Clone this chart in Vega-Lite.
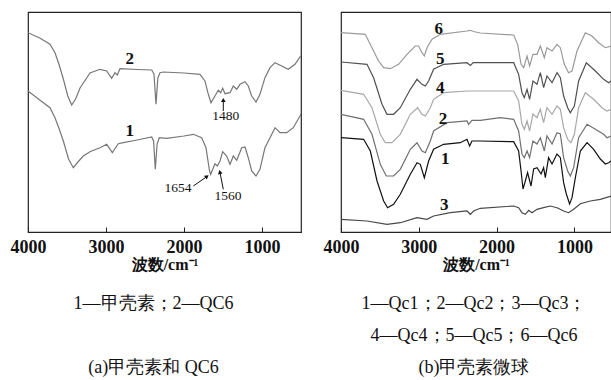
{
  "$schema": "https://vega.github.io/schema/vega-lite/v6.json",
  "background": "white",
  "padding": {"left": 9, "top": 11, "right": 0, "bottom": 0},
  "bounds": "flush",
  "spacing": 40,
  "config": {
    "view": {"stroke": "#222", "strokeWidth": 1.2},
    "font": "Liberation Serif",
    "text": {"font": "Liberation Serif"}
  },
  "datasets": {
    "a": [
      {"s":"2","w":4000,"t":199.3},{"s":"2","w":3850,"t":194},{"s":"2","w":3718,"t":187.7},{"s":"2","w":3654,"t":179.3},{"s":"2","w":3600,"t":167},{"s":"2","w":3547,"t":153},{"s":"2","w":3490,"t":136},{"s":"2","w":3440,"t":127},{"s":"2","w":3390,"t":133},{"s":"2","w":3333,"t":144},{"s":"2","w":3205,"t":159},{"s":"2","w":3077,"t":162.7},{"s":"2","w":2991,"t":161},{"s":"2","w":2927,"t":153.7},{"s":"2","w":2885,"t":159.3},{"s":"2","w":2855,"t":157},{"s":"2","w":2821,"t":163.3},{"s":"2","w":2600,"t":162.5},{"s":"2","w":2414,"t":162},{"s":"2","w":2385,"t":158},{"s":"2","w":2359,"t":127.7},{"s":"2","w":2335,"t":154},{"s":"2","w":2308,"t":159.3},{"s":"2","w":2265,"t":160},{"s":"2","w":2000,"t":159},{"s":"2","w":1795,"t":157.7},{"s":"2","w":1731,"t":151},{"s":"2","w":1688,"t":137.7},{"s":"2","w":1654,"t":129.3},{"s":"2","w":1603,"t":136},{"s":"2","w":1560,"t":141.7},{"s":"2","w":1529,"t":139.3},{"s":"2","w":1504,"t":143.7},{"s":"2","w":1474,"t":138.3},{"s":"2","w":1410,"t":139.3},{"s":"2","w":1368,"t":146},{"s":"2","w":1324,"t":142.7},{"s":"2","w":1282,"t":147.7},{"s":"2","w":1218,"t":150.3},{"s":"2","w":1176,"t":146},{"s":"2","w":1132,"t":136},{"s":"2","w":1077,"t":130},{"s":"2","w":1026,"t":137.7},{"s":"2","w":962,"t":154.3},{"s":"2","w":897,"t":164.3},{"s":"2","w":833,"t":169.3},{"s":"2","w":747,"t":166},{"s":"2","w":663,"t":162.7},{"s":"2","w":577,"t":167.7},{"s":"2","w":513,"t":175},{"s":"2","w":500,"t":176},
      {"s":"1","w":4000,"t":141},{"s":"1","w":3850,"t":132},{"s":"1","w":3718,"t":124.3},{"s":"1","w":3654,"t":114.3},{"s":"1","w":3600,"t":103},{"s":"1","w":3547,"t":91},{"s":"1","w":3480,"t":73},{"s":"1","w":3419,"t":64.3},{"s":"1","w":3360,"t":70},{"s":"1","w":3291,"t":76},{"s":"1","w":3200,"t":80.5},{"s":"1","w":3077,"t":84.3},{"s":"1","w":2991,"t":87.7},{"s":"1","w":2919,"t":79.3},{"s":"1","w":2842,"t":88.3},{"s":"1","w":2778,"t":89.3},{"s":"1","w":2600,"t":92},{"s":"1","w":2414,"t":95},{"s":"1","w":2390,"t":91},{"s":"1","w":2368,"t":62.7},{"s":"1","w":2345,"t":88},{"s":"1","w":2317,"t":94.3},{"s":"1","w":2222,"t":93.7},{"s":"1","w":2000,"t":96},{"s":"1","w":1881,"t":97.7},{"s":"1","w":1773,"t":94.3},{"s":"1","w":1718,"t":84.3},{"s":"1","w":1676,"t":62.7},{"s":"1","w":1658,"t":57.7},{"s":"1","w":1603,"t":68.3},{"s":"1","w":1573,"t":66},{"s":"1","w":1538,"t":71},{"s":"1","w":1504,"t":80.3},{"s":"1","w":1453,"t":76},{"s":"1","w":1410,"t":67.7},{"s":"1","w":1368,"t":76},{"s":"1","w":1324,"t":71.7},{"s":"1","w":1260,"t":84.3},{"s":"1","w":1218,"t":85},{"s":"1","w":1176,"t":74.3},{"s":"1","w":1132,"t":61},{"s":"1","w":1077,"t":56},{"s":"1","w":1026,"t":62.7},{"s":"1","w":962,"t":84.3},{"s":"1","w":897,"t":94.3},{"s":"1","w":833,"t":104.3},{"s":"1","w":769,"t":99.3},{"s":"1","w":683,"t":99.3},{"s":"1","w":599,"t":104.3},{"s":"1","w":513,"t":116},{"s":"1","w":500,"t":118}
    ],
    "alab": [
      {"w":2696,"t":173,"label":"2"},
      {"w":2696,"t":101,"label":"1"}
    ],
    "ann": [
      {"w":1465,"t":116,"label":"1480"},
      {"w":2077,"t":44.3,"label":"1654"},
      {"w":1436,"t":36,"label":"1560"}
    ],
    "arrows": [
      {"id":"1480","w":1496,"t":121,"w2":1496,"t2":132},
      {"id":"1654","w":1881,"t":46,"w2":1705,"t2":55.5},
      {"id":"1560","w":1496,"t":42.7,"w2":1540,"t2":60}
    ],
    "b": [
      {"s":"6","w":4000,"t":199.3},{"s":"6","w":3688,"t":197.7},{"s":"6","w":3602,"t":184.3},{"s":"6","w":3517,"t":171},{"s":"6","w":3452,"t":164.3},{"s":"6","w":3366,"t":163.3},{"s":"6","w":3260,"t":167.7},{"s":"6","w":3152,"t":177.7},{"s":"6","w":3045,"t":186},{"s":"6","w":3003,"t":186},{"s":"6","w":2959,"t":179.3},{"s":"6","w":2929,"t":176},{"s":"6","w":2895,"t":184.3},{"s":"6","w":2830,"t":192.7},{"s":"6","w":2724,"t":197.7},{"s":"6","w":2381,"t":201},{"s":"6","w":2338,"t":201.7},{"s":"6","w":2296,"t":200.5},{"s":"6","w":2210,"t":199},{"s":"6","w":1781,"t":197},{"s":"6","w":1730,"t":187.7},{"s":"6","w":1686,"t":167.7},{"s":"6","w":1652,"t":164.3},{"s":"6","w":1609,"t":176},{"s":"6","w":1576,"t":166},{"s":"6","w":1533,"t":177.7},{"s":"6","w":1481,"t":177.7},{"s":"6","w":1438,"t":186},{"s":"6","w":1387,"t":174.3},{"s":"6","w":1353,"t":184.3},{"s":"6","w":1288,"t":181},{"s":"6","w":1224,"t":187.7},{"s":"6","w":1181,"t":184.3},{"s":"6","w":1130,"t":167.7},{"s":"6","w":1075,"t":159.3},{"s":"6","w":1031,"t":161},{"s":"6","w":967,"t":181},{"s":"6","w":860,"t":199.3},{"s":"6","w":775,"t":196},{"s":"6","w":689,"t":189.3},{"s":"6","w":603,"t":184.3},{"s":"6","w":530,"t":186},
      {"s":"5","w":4000,"t":170},{"s":"5","w":3666,"t":167.7},{"s":"5","w":3581,"t":154.3},{"s":"5","w":3473,"t":127.7},{"s":"5","w":3409,"t":117.7},{"s":"5","w":3324,"t":117.7},{"s":"5","w":3238,"t":124.3},{"s":"5","w":3109,"t":142.7},{"s":"5","w":3023,"t":152.7},{"s":"5","w":2959,"t":147.7},{"s":"5","w":2916,"t":146},{"s":"5","w":2874,"t":151},{"s":"5","w":2810,"t":162.7},{"s":"5","w":2681,"t":167.7},{"s":"5","w":2381,"t":169.3},{"s":"5","w":2338,"t":166.5},{"s":"5","w":2300,"t":169.5},{"s":"5","w":2210,"t":169.3},{"s":"5","w":1781,"t":169.3},{"s":"5","w":1717,"t":157.7},{"s":"5","w":1674,"t":139.3},{"s":"5","w":1644,"t":134.3},{"s":"5","w":1609,"t":142.7},{"s":"5","w":1576,"t":132.7},{"s":"5","w":1533,"t":151},{"s":"5","w":1481,"t":147.7},{"s":"5","w":1438,"t":159.3},{"s":"5","w":1396,"t":144.3},{"s":"5","w":1353,"t":156},{"s":"5","w":1288,"t":149.3},{"s":"5","w":1224,"t":159.3},{"s":"5","w":1181,"t":154.3},{"s":"5","w":1139,"t":136},{"s":"5","w":1087,"t":124.3},{"s":"5","w":1053,"t":119.3},{"s":"5","w":1001,"t":126},{"s":"5","w":946,"t":151},{"s":"5","w":847,"t":169.3},{"s":"5","w":731,"t":161},{"s":"5","w":625,"t":152.7},{"s":"5","w":560,"t":149.3},{"s":"5","w":530,"t":151},
      {"s":"4","w":4000,"t":141.7},{"s":"4","w":3709,"t":137.7},{"s":"4","w":3602,"t":124.3},{"s":"4","w":3495,"t":97.7},{"s":"4","w":3431,"t":89.3},{"s":"4","w":3345,"t":89.3},{"s":"4","w":3238,"t":97.7},{"s":"4","w":3109,"t":117.7},{"s":"4","w":3015,"t":124.3},{"s":"4","w":2959,"t":117.7},{"s":"4","w":2916,"t":116},{"s":"4","w":2852,"t":124.3},{"s":"4","w":2810,"t":132.7},{"s":"4","w":2681,"t":139.3},{"s":"4","w":2381,"t":141},{"s":"4","w":2210,"t":141},{"s":"4","w":1781,"t":141},{"s":"4","w":1717,"t":131},{"s":"4","w":1674,"t":107.7},{"s":"4","w":1644,"t":102.7},{"s":"4","w":1609,"t":111},{"s":"4","w":1576,"t":101},{"s":"4","w":1533,"t":118},{"s":"4","w":1481,"t":114.3},{"s":"4","w":1438,"t":122.7},{"s":"4","w":1396,"t":109.3},{"s":"4","w":1353,"t":124.3},{"s":"4","w":1288,"t":117.7},{"s":"4","w":1224,"t":126},{"s":"4","w":1181,"t":122.7},{"s":"4","w":1139,"t":104.3},{"s":"4","w":1087,"t":92.7},{"s":"4","w":1044,"t":89.3},{"s":"4","w":1001,"t":97.7},{"s":"4","w":946,"t":124.3},{"s":"4","w":860,"t":139.3},{"s":"4","w":753,"t":132.7},{"s":"4","w":646,"t":124.3},{"s":"4","w":581,"t":121},{"s":"4","w":530,"t":122.7},
      {"s":"2","w":4000,"t":117.7},{"s":"2","w":3709,"t":112.7},{"s":"2","w":3602,"t":97.7},{"s":"2","w":3495,"t":67.7},{"s":"2","w":3418,"t":56},{"s":"2","w":3324,"t":56},{"s":"2","w":3238,"t":62.7},{"s":"2","w":3109,"t":82.7},{"s":"2","w":3023,"t":89.3},{"s":"2","w":2959,"t":81},{"s":"2","w":2916,"t":79.3},{"s":"2","w":2852,"t":91},{"s":"2","w":2810,"t":101},{"s":"2","w":2638,"t":109.3},{"s":"2","w":2381,"t":111},{"s":"2","w":2360,"t":107.7},{"s":"2","w":2317,"t":111.7},{"s":"2","w":2210,"t":111.7},{"s":"2","w":1952,"t":114.3},{"s":"2","w":1781,"t":112.7},{"s":"2","w":1717,"t":101},{"s":"2","w":1674,"t":78},{"s":"2","w":1644,"t":74.3},{"s":"2","w":1609,"t":81},{"s":"2","w":1576,"t":74.3},{"s":"2","w":1533,"t":91},{"s":"2","w":1481,"t":88},{"s":"2","w":1438,"t":94.3},{"s":"2","w":1387,"t":81},{"s":"2","w":1353,"t":96},{"s":"2","w":1288,"t":88},{"s":"2","w":1224,"t":99.3},{"s":"2","w":1181,"t":98},{"s":"2","w":1139,"t":74.3},{"s":"2","w":1087,"t":61},{"s":"2","w":1053,"t":56},{"s":"2","w":1010,"t":64.3},{"s":"2","w":946,"t":94.3},{"s":"2","w":838,"t":107.7},{"s":"2","w":731,"t":102.7},{"s":"2","w":625,"t":97.7},{"s":"2","w":581,"t":94.3},{"s":"2","w":530,"t":96},
      {"s":"1","w":4000,"t":94.3},{"s":"1","w":3709,"t":92.7},{"s":"1","w":3623,"t":81},{"s":"1","w":3537,"t":51},{"s":"1","w":3452,"t":31},{"s":"1","w":3401,"t":24.3},{"s":"1","w":3324,"t":27.7},{"s":"1","w":3238,"t":37.7},{"s":"1","w":3109,"t":57.7},{"s":"1","w":3023,"t":69.3},{"s":"1","w":2981,"t":67.7},{"s":"1","w":2929,"t":54.3},{"s":"1","w":2874,"t":71},{"s":"1","w":2810,"t":82.7},{"s":"1","w":2681,"t":87.7},{"s":"1","w":2467,"t":89.3},{"s":"1","w":2381,"t":92.7},{"s":"1","w":2347,"t":86},{"s":"1","w":2317,"t":91},{"s":"1","w":2210,"t":91},{"s":"1","w":1781,"t":90.3},{"s":"1","w":1717,"t":81},{"s":"1","w":1686,"t":61},{"s":"1","w":1661,"t":43},{"s":"1","w":1631,"t":51},{"s":"1","w":1602,"t":59.3},{"s":"1","w":1558,"t":46},{"s":"1","w":1524,"t":63},{"s":"1","w":1481,"t":64.3},{"s":"1","w":1429,"t":58},{"s":"1","w":1396,"t":64.3},{"s":"1","w":1374,"t":54.3},{"s":"1","w":1332,"t":74.3},{"s":"1","w":1288,"t":68},{"s":"1","w":1224,"t":78},{"s":"1","w":1181,"t":74.3},{"s":"1","w":1139,"t":49.3},{"s":"1","w":1104,"t":38},{"s":"1","w":1062,"t":28},{"s":"1","w":1031,"t":34.3},{"s":"1","w":988,"t":54.3},{"s":"1","w":924,"t":81},{"s":"1","w":838,"t":89.3},{"s":"1","w":753,"t":82.7},{"s":"1","w":667,"t":73},{"s":"1","w":603,"t":68},{"s":"1","w":560,"t":69.3},{"s":"1","w":530,"t":71},
      {"s":"3","w":4000,"t":12.7},{"s":"3","w":3666,"t":11},{"s":"3","w":3409,"t":7.7},{"s":"3","w":3238,"t":9.3},{"s":"3","w":3023,"t":14.3},{"s":"3","w":2895,"t":12.7},{"s":"3","w":2810,"t":16},{"s":"3","w":2595,"t":19.3},{"s":"3","w":2381,"t":21},{"s":"3","w":2338,"t":17.7},{"s":"3","w":2296,"t":21},{"s":"3","w":2210,"t":23.7},{"s":"3","w":1781,"t":26},{"s":"3","w":1717,"t":24.3},{"s":"3","w":1674,"t":19.3},{"s":"3","w":1631,"t":17.7},{"s":"3","w":1588,"t":21.7},{"s":"3","w":1545,"t":19.3},{"s":"3","w":1481,"t":22.7},{"s":"3","w":1396,"t":24.3},{"s":"3","w":1310,"t":26},{"s":"3","w":1224,"t":24.3},{"s":"3","w":1139,"t":21},{"s":"3","w":1075,"t":19.3},{"s":"3","w":1010,"t":22.7},{"s":"3","w":924,"t":28.3},{"s":"3","w":796,"t":31},{"s":"3","w":667,"t":32.7},{"s":"3","w":530,"t":36}
    ],
    "blab": [
      {"w":2745,"t":203,"label":"6"},
      {"w":2724,"t":173,"label":"5"},
      {"w":2724,"t":144,"label":"4"},
      {"w":2689,"t":113,"label":"2"},
      {"w":2659,"t":73,"label":"1"},
      {"w":2672,"t":27,"label":"3"}
    ]
  },
  "hconcat": [
    {
      "width": 273,
      "height": 220,
      "title": {"text": "1—甲壳素；2—QC6", "subtitle": "(a)甲壳素和 QC6", "orient": "bottom", "anchor": "middle", "font": "Liberation Serif", "fontSize": 18, "fontWeight": "normal", "color": "#111", "lineHeight": 32, "subtitleFont": "Liberation Serif", "subtitleFontSize": 18, "subtitleFontWeight": "normal", "subtitleColor": "#111", "subtitleLineHeight": 32, "subtitlePadding": 46, "offset": 23, "dx": -11},
      "encoding": {
        "x": {"field": "w", "type": "quantitative", "scale": {"domain": [4000, 500], "nice": false, "zero": false},
          "axis": {"values": [4000, 3000, 2000, 1000], "format": "d", "title": "波数/cm⁻¹", "grid": false, "tickSize": -5, "tickColor": "#222", "domainColor": "#222", "domainWidth": 1.2, "labelFont": "Liberation Serif", "labelFontSize": 18, "labelFontWeight": "bold", "labelColor": "#111", "labelPadding": 11, "labelFlush": false, "labelOverlap": false, "titleFont": "Liberation Serif", "titleFontSize": 16, "titleFontWeight": "bold", "titleColor": "#111", "titlePadding": 0}},
        "y": {"field": "t", "type": "quantitative", "scale": {"domain": [0, 220], "nice": false, "zero": false}, "axis": null}
      },
      "layer": [
        {"data": {"name": "a"}, "mark": {"type": "line", "strokeWidth": 1.2, "clip": true, "color": "#777"}, "encoding": {"detail": {"field": "s"}}},
        {"data": {"name": "alab"}, "mark": {"type": "text", "fontSize": 17, "fontWeight": "bold", "color": "#111"}, "encoding": {"text": {"field": "label"}}},
        {"data": {"name": "ann"}, "mark": {"type": "text", "fontSize": 13.5, "color": "#111"}, "encoding": {"text": {"field": "label"}}},
        {"data": {"name": "arrows"}, "mark": {"type": "rule", "strokeWidth": 1, "color": "#111"}, "encoding": {"x2": {"field": "w2"}, "y2": {"field": "t2"}}},
        {"data": {"name": "arrows"}, "transform": [{"filter": "datum.id == '1480'"}], "mark": {"type": "point", "shape": "triangle-up", "filled": true, "size": 22, "angle": 0, "color": "#111", "opacity": 1}, "encoding": {"x": {"field": "w2", "type": "quantitative"}, "y": {"field": "t2", "type": "quantitative"}}},
        {"data": {"name": "arrows"}, "transform": [{"filter": "datum.id == '1654'"}], "mark": {"type": "point", "shape": "triangle-up", "filled": true, "size": 22, "angle": 54, "color": "#111", "opacity": 1}, "encoding": {"x": {"field": "w2", "type": "quantitative"}, "y": {"field": "t2", "type": "quantitative"}}},
        {"data": {"name": "arrows"}, "transform": [{"filter": "datum.id == '1560'"}], "mark": {"type": "point", "shape": "triangle-up", "filled": true, "size": 22, "angle": 349, "color": "#111", "opacity": 1}, "encoding": {"x": {"field": "w2", "type": "quantitative"}, "y": {"field": "t2", "type": "quantitative"}}}
      ]
    },
    {
      "width": 270,
      "height": 220,
      "title": {"text": ["1—Qc1；2—Qc2；3—Qc3；", "4—Qc4；5—Qc5；6—Qc6"], "subtitle": "(b)甲壳素微球", "orient": "bottom", "anchor": "middle", "font": "Liberation Serif", "fontSize": 18, "fontWeight": "normal", "color": "#111", "lineHeight": 32, "subtitleFont": "Liberation Serif", "subtitleFontSize": 18, "subtitleFontWeight": "normal", "subtitleColor": "#111", "subtitleLineHeight": 32, "subtitlePadding": 14, "offset": 23, "dx": -2},
      "encoding": {
        "x": {"field": "w", "type": "quantitative", "scale": {"domain": [4000, 530], "nice": false, "zero": false},
          "axis": {"values": [4000, 3000, 2000, 1000], "format": "d", "title": "波数/cm⁻¹", "grid": false, "tickSize": -5, "tickColor": "#222", "domainColor": "#222", "domainWidth": 1.2, "labelFont": "Liberation Serif", "labelFontSize": 18, "labelFontWeight": "bold", "labelColor": "#111", "labelPadding": 11, "labelFlush": false, "labelOverlap": false, "titleFont": "Liberation Serif", "titleFontSize": 16, "titleFontWeight": "bold", "titleColor": "#111", "titlePadding": 0}},
        "y": {"field": "t", "type": "quantitative", "scale": {"domain": [0, 220], "nice": false, "zero": false}, "axis": null}
      },
      "layer": [
        {"data": {"name": "b"}, "mark": {"type": "line", "strokeWidth": 1.2, "clip": true},
          "encoding": {"color": {"field": "s", "type": "nominal", "scale": {"domain": ["1","2","3","4","5","6"], "range": ["#111111","#707070","#484848","#a8a8a8","#505050","#9a9a9a"]}, "legend": null}}},
        {"data": {"name": "blab"}, "mark": {"type": "text", "fontSize": 17, "fontWeight": "bold", "color": "#111"}, "encoding": {"text": {"field": "label"}}}
      ]
    }
  ]
}
